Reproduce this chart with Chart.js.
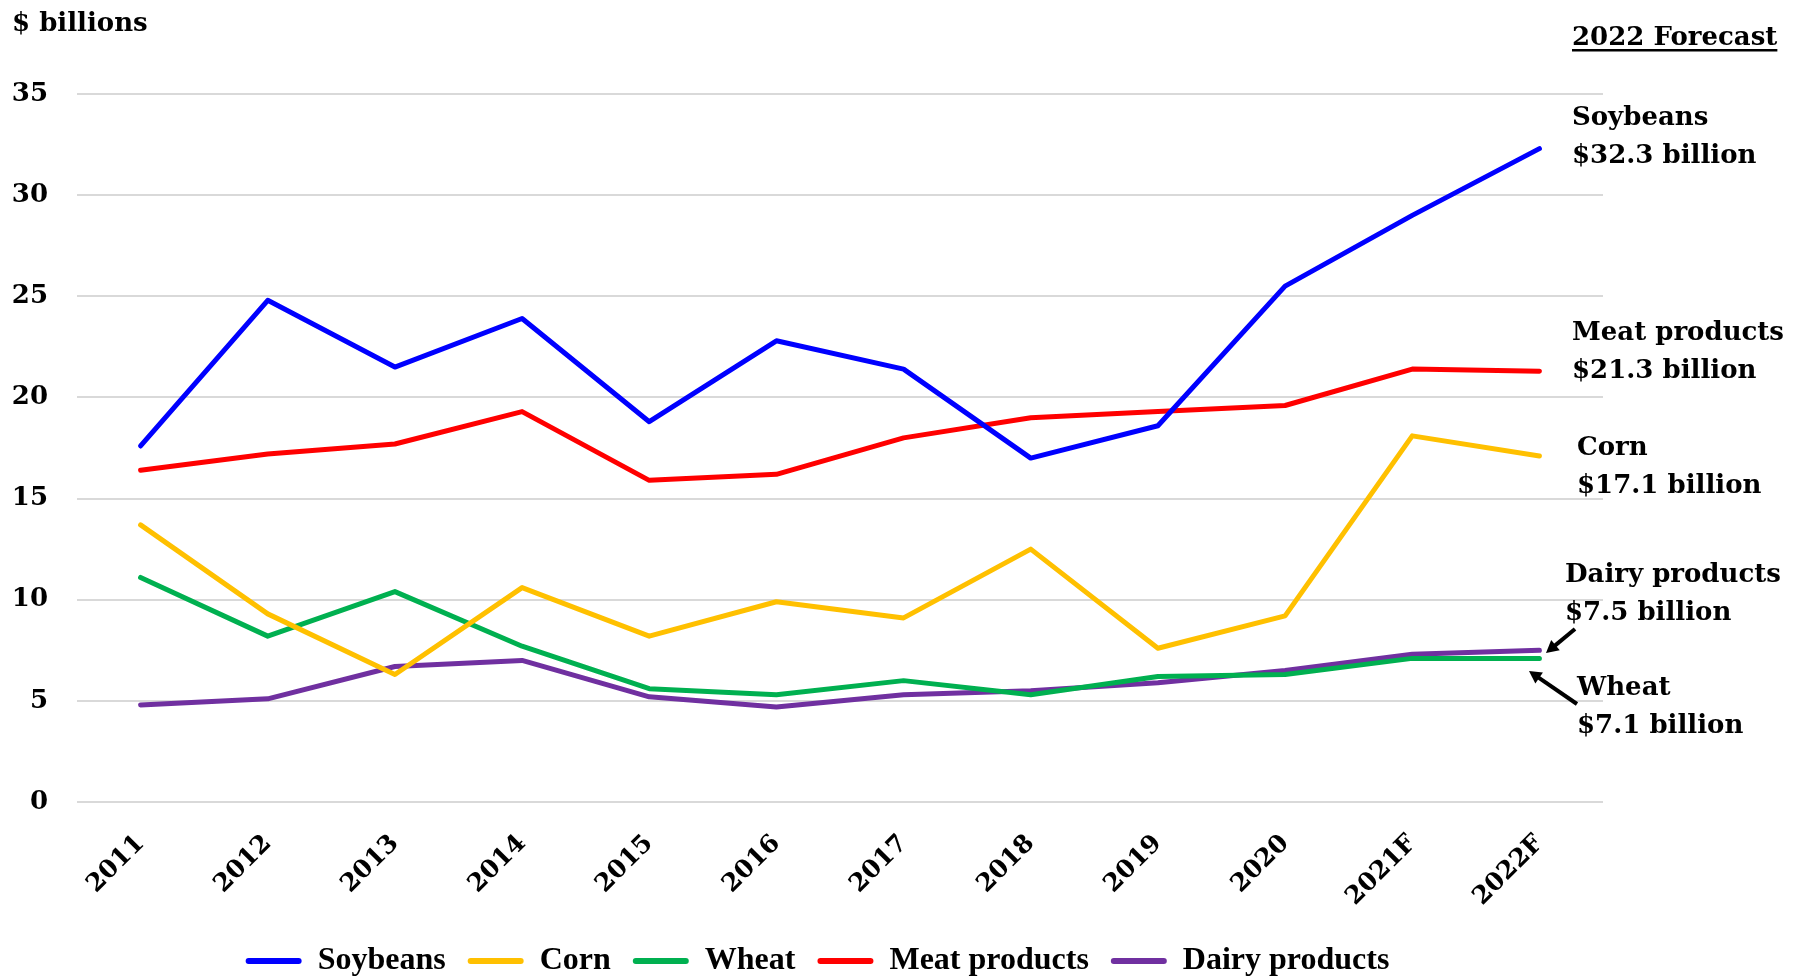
<!DOCTYPE html>
<html>
<head>
<meta charset="utf-8">
<script src="https://cdn.jsdelivr.net/npm/chart.js@4.4.1/dist/chart.umd.min.js"></script>
<style>
  html, body { margin: 0; padding: 0; background: #ffffff; }
  #wrap { width: 1793px; height: 976px; }
</style>
</head>
<body>
<div id="wrap"><canvas id="c" width="1793" height="976"></canvas></div>
<script>
const years = ['2011','2012','2013','2014','2015','2016','2017','2018','2019','2020','2021F','2022F'];
const soybeans = [17.6, 24.8, 21.5, 23.9, 18.8, 22.8, 21.4, 17.0, 18.6, 25.5, 29.0, 32.3];
const corn     = [13.7, 9.3, 6.3, 10.6, 8.2, 9.9, 9.1, 12.5, 7.6, 9.2, 18.1, 17.1];
const wheat    = [11.1, 8.2, 10.4, 7.7, 5.6, 5.3, 6.0, 5.3, 6.2, 6.3, 7.1, 7.1];
const meat     = [16.4, 17.2, 17.7, 19.3, 15.9, 16.2, 18.0, 19.0, 19.3, 19.6, 21.4, 21.3];
const dairy    = [4.8, 5.1, 6.7, 7.0, 5.2, 4.7, 5.3, 5.5, 5.9, 6.5, 7.3, 7.5];
const yTicks   = [0, 5, 10, 15, 20, 25, 30, 35];

const seriesNames  = ['Soybeans', 'Corn', 'Wheat', 'Meat products', 'Dairy products'];
const seriesData   = [soybeans, corn, wheat, meat, dairy];
const seriesColors = ['#0000FF', '#FFC000', '#00B050', '#FF0000', '#7030A0'];

const fmt = v => '$' + v.toFixed(1) + ' billion';

const legendShift = {
  id: 'legendShift',
  afterLayout(chart) {
    const l = chart.legend;
    if (!l) return;
    l.left += 16; l.right += 16;
    l.top += 11; l.bottom += 11;
  }
};

const annotationPlugin = {
  id: 'annots',
  afterDraw(chart) {
    const ctx = chart.ctx;
    ctx.save();
    ctx.fillStyle = '#000';
    ctx.textAlign = 'left';
    ctx.textBaseline = 'alphabetic';
    ctx.font = 'bold 26px "DejaVu Serif"';
    ctx.fillText('$ billions', 12, 31);

    ctx.font = 'bold 26px "DejaVu Serif"';
    const last = soybeans.length - 1;
    ctx.fillText('2022 Forecast', 1572, 45);
    const w = ctx.measureText('2022 Forecast').width;
    ctx.fillRect(1572, 49, w, 2.5);
    const items = [
      ['Soybeans', fmt(soybeans[last]), 1572, 125],
      ['Meat products', fmt(meat[last]), 1572, 340],
      ['Corn', fmt(corn[last]), 1577, 455],
      ['Dairy products', fmt(dairy[last]), 1565, 582],
      ['Wheat', fmt(wheat[last]), 1577, 695]
    ];
    items.forEach(([a, b, x, y]) => {
      ctx.fillText(a, x, y);
      ctx.fillText(b, x, y + 38);
    });
    function arrow(x1, y1, x2, y2) {
      ctx.strokeStyle = '#000';
      ctx.lineWidth = 4;
      const ang = Math.atan2(y2 - y1, x2 - x1);
      const hl = 14;
      const bx = x2 - Math.cos(ang) * hl * 0.8, by = y2 - Math.sin(ang) * hl * 0.8;
      ctx.beginPath();
      ctx.moveTo(x1, y1);
      ctx.lineTo(bx, by);
      ctx.stroke();
      ctx.beginPath();
      ctx.moveTo(x2, y2);
      ctx.lineTo(x2 - hl * Math.cos(ang - 0.5), y2 - hl * Math.sin(ang - 0.5));
      ctx.lineTo(x2 - hl * Math.cos(ang + 0.5), y2 - hl * Math.sin(ang + 0.5));
      ctx.closePath();
      ctx.fillStyle = '#000';
      ctx.fill();
    }
    arrow(1575, 629, 1546, 653);
    arrow(1577, 704, 1529, 671);
    ctx.restore();
  }
};

new Chart(document.getElementById('c'), {
  type: 'line',
  data: {
    labels: years,
    datasets: seriesNames.map((n, i) => ({
      label: n,
      data: seriesData[i],
      borderColor: seriesColors[i],
      backgroundColor: seriesColors[i],
      borderWidth: 5,
      pointRadius: 0,
      tension: 0,
      borderCapStyle: 'round',
      borderJoinStyle: 'round'
    }))
  },
  options: {
    responsive: false,
    animation: false,
    layout: { padding: { left: 0, right: 190, top: 94, bottom: 0 } },
    plugins: {
      tooltip: { enabled: false },
      legend: {
        position: 'bottom',
        labels: {
          color: '#000',
          font: { family: '"Liberation Serif"', weight: 'bold', size: 32 },
          boxWidth: 56,
          boxHeight: 6,
          padding: 22,
          useBorderRadius: true,
          borderRadius: 3,
          generateLabels(chart) {
            return chart.data.datasets.map((d, i) => ({
              text: d.label,
              fillStyle: d.borderColor,
              strokeStyle: d.borderColor,
              lineWidth: 0,
              fontColor: '#000',
              hidden: false,
              datasetIndex: i,
              borderRadius: 3
            }));
          }
        }
      }
    },
    scales: {
      x: {
        offset: true,
        grid: { display: false, drawTicks: false },
        border: { display: false },
        ticks: {
          color: '#000',
          font: { family: '"DejaVu Serif"', weight: 'bold', size: 25 },
          minRotation: 45,
          maxRotation: 45,
          padding: 27
        },
        afterFit(s) { s.height = 110; }
      },
      y: {
        min: 0,
        max: 35,
        afterBuildTicks(s) { s.ticks = yTicks.map(v => ({ value: v })); },
        grid: { color: '#D9D9D9', lineWidth: 2, drawTicks: false },
        border: { display: false },
        ticks: {
          color: '#000',
          font: { family: '"DejaVu Serif"', weight: 'bold', size: 26 },
          padding: 29
        },
        afterFit(s) { s.width = 77; }
      }
    }
  },
  plugins: [legendShift, annotationPlugin]
});
</script>
</body>
</html>
